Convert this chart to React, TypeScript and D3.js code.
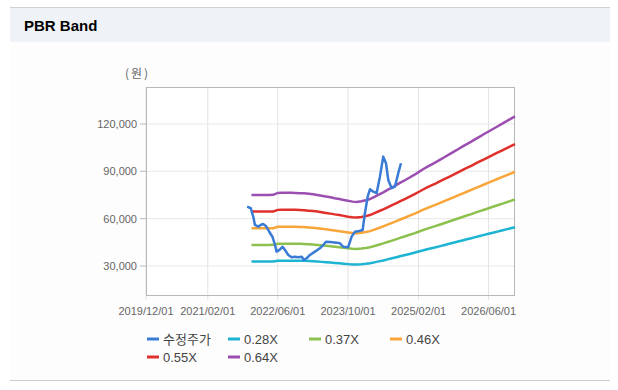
import React from "react";
import * as d3 from "d3";

const TITLE = "PBR Band";
const UNIT = "(원)";
const yTicks = [30000, 60000, 90000, 120000];
const xTickDates = ["2019-12-01", "2021-02-01", "2022-06-01", "2023-10-01", "2025-02-01", "2026-06-01"];
const xDomain = ["2019-12-01", "2026-12-01"];
const yDomain = [11000, 143400];

const priceLabel = "수정주가";
const priceDates = [
  "2021-11-01", "2021-11-26", "2021-12-13", "2021-12-25", "2022-01-17", "2022-02-02", "2022-02-20",
  "2022-03-11", "2022-04-03", "2022-04-27", "2022-05-13", "2022-05-24", "2022-06-11", "2022-07-05",
  "2022-07-21", "2022-08-13", "2022-09-05", "2022-09-28", "2022-10-21", "2022-11-14", "2022-11-30",
  "2022-12-18", "2023-01-10", "2023-02-14", "2023-03-20", "2023-04-12", "2023-05-01", "2023-05-29",
  "2023-07-14", "2023-08-06", "2023-08-29", "2023-10-02", "2023-10-26", "2023-11-18", "2023-12-18",
  "2024-01-10", "2024-01-26", "2024-02-14", "2024-03-01", "2024-03-24", "2024-04-16", "2024-05-09",
  "2024-06-01", "2024-06-20", "2024-07-06", "2024-07-29", "2024-08-21", "2024-09-13", "2024-10-02",
];
const priceValues = [
  67600, 66600, 61300, 56000, 54900, 56000, 56600,
  55400, 51700, 48200, 43300, 39100, 40100, 42200,
  40100, 37000, 35500, 35900, 35500, 35900, 33800,
  34900, 37000, 39100, 41200, 43300, 45400, 45200,
  44800, 44400, 42200, 41900, 48600, 51700, 52200,
  52800, 63400, 73900, 78600, 77100, 76100, 86600,
  99300, 95100, 84500, 79300, 80300, 88800, 95100,
];

const bandLabels = ["0.28X", "0.37X", "0.46X", "0.55X", "0.64X"];
const bandMultiples = [0.28, 0.37, 0.46, 0.55, 0.64];
// Book value per share (thousand won), monthly from 2021-12
const bpsStartMonth = "2021-12-01";
const bpsValues = [
  117.2, 117.2, 117.2, 117.2, 117.2, 117.3, 119.2, 119.3, 119.3, 119.3, 119.2, 119.0,
  118.8, 118.3, 117.8, 117.2, 116.5, 115.7, 114.9, 114.0, 113.2, 112.3, 111.4, 110.6,
  110.3, 111.0, 112.0, 113.2, 115.4, 117.6, 119.8, 122.2, 124.6, 127.1, 129.6, 132.0,
  134.5, 137.0, 139.8, 142.4, 145.0, 147.3, 149.7, 152.2, 154.8, 157.3, 159.8, 162.4,
  165.0, 167.5, 170.0, 172.5, 175.0, 177.5, 180.0, 182.5, 185.0, 187.5, 190.0, 192.5,
  195.0,
];

const priceColor = "#3a7bd5";
const bandColors = ["#1db3d2", "#8cc04f", "#f8a53a", "#df302c", "#9b4fb0"];

const W = 618;
const H = 390;
const M = { left: 146, right: 515, top: 87, bottom: 296 };
const numFont = "'Liberation Sans', Arial, sans-serif";
const krFont = "'Noto Sans CJK KR', 'Liberation Sans', sans-serif";

export default function App() {
  const x = d3.scaleUtc().domain(xDomain.map((d) => new Date(d))).range([M.left, M.right]);
  const y = d3.scaleLinear().domain(yDomain).range([M.bottom, M.top]);
  const fmt = d3.format(",");

  const bpsDates = bpsValues.map((_, i) => d3.utcMonth.offset(new Date(bpsStartMonth), i));
  const line = d3
    .line<[Date, number]>()
    .x((d) => x(d[0]))
    .y((d) => y(d[1]));

  const pricePts: [Date, number][] = priceDates.map((d, i) => [new Date(d), priceValues[i]]);
  const bands = bandMultiples.map((m) =>
    bpsDates.map((d, i) => [d, bpsValues[i] * 1000 * m] as [Date, number])
  );

  const legendItems = [
    { label: priceLabel, color: priceColor },
    ...bandLabels.map((l, i) => ({ label: l, color: bandColors[i] })),
  ];

  return (
    <div style={{ position: "absolute", left: 0, top: 0, width: W, height: H, background: "#fff" }}>
      <svg width={W} height={H} style={{ display: "block" }}>
        <rect x={10} y={42} width={600} height={338} fill="#fdfdfd" />
        <rect x={10} y={8} width={600} height={34} fill="#eff3f8" />
        <line x1={10} x2={610} y1={7.5} y2={7.5} stroke="#cfd2d6" />
        <line x1={10} x2={610} y1={380.5} y2={380.5} stroke="#cccccc" />
        <text x={24} y={30.5} fontFamily={numFont} fontWeight="bold" fontSize={15} fill="#000">
          {TITLE}
        </text>

        <rect x={M.left} y={M.top} width={M.right - M.left} height={M.bottom - M.top} fill="#fff" />
        {yTicks.map((t) => (
          <line key={"gy" + t} x1={M.left} x2={M.right} y1={y(t)} y2={y(t)} stroke="#e8e8e8" />
        ))}
        {xTickDates.map((t) => (
          <line
            key={"gx" + t}
            x1={x(new Date(t))}
            x2={x(new Date(t))}
            y1={M.top}
            y2={M.bottom + 4}
            stroke="#e3e3e3"
          />
        ))}
        <rect
          x={M.left + 0.5}
          y={M.top + 0.5}
          width={M.right - M.left - 1}
          height={M.bottom - M.top - 1}
          fill="none"
          stroke="#b8b8b8"
        />
        {yTicks.map((t) => (
          <g key={"ty" + t}>
            <line x1={M.left - 6} x2={M.left} y1={y(t)} y2={y(t)} stroke="#b8b8b8" />
            <text
              x={M.left - 9}
              y={y(t)}
              dy="0.35em"
              textAnchor="end"
              fontFamily={numFont}
              fontSize={11}
              fill="#666"
            >
              {fmt(t)}
            </text>
          </g>
        ))}
        {xTickDates.map((t) => (
          <text
            key={"tx" + t}
            x={x(new Date(t))}
            y={315}
            textAnchor="middle"
            fontFamily={numFont}
            fontSize={11}
            fill="#666"
          >
            {t.replace(/-/g, "/")}
          </text>
        ))}
        <text x={125} y={78} fontFamily={krFont} fontSize={12} fill="#666" letterSpacing={2}>
          {UNIT}
        </text>

        {bands.map((b, i) => (
          <path key={"b" + i} d={line(b) || ""} fill="none" stroke={bandColors[i]} strokeWidth={2.5} />
        ))}
        <path d={line(pricePts) || ""} fill="none" stroke={priceColor} strokeWidth={2.5} strokeLinejoin="round" />

        {legendItems.map((it, i) => {
          const col = i % 4;
          const row = Math.floor(i / 4);
          const lx = 147 + col * 81;
          const ly = 339 + row * 18;
          return (
            <g key={"lg" + i}>
              <line x1={lx} x2={lx + 12} y1={ly} y2={ly} stroke={it.color} strokeWidth={3} />
              <text
                x={lx + 16}
                y={ly}
                dy="0.36em"
                fontFamily={i === 0 ? krFont : numFont}
                fontSize={13}
                fill="#444"
              >
                {it.label}
              </text>
            </g>
          );
        })}
      </svg>
    </div>
  );
}
